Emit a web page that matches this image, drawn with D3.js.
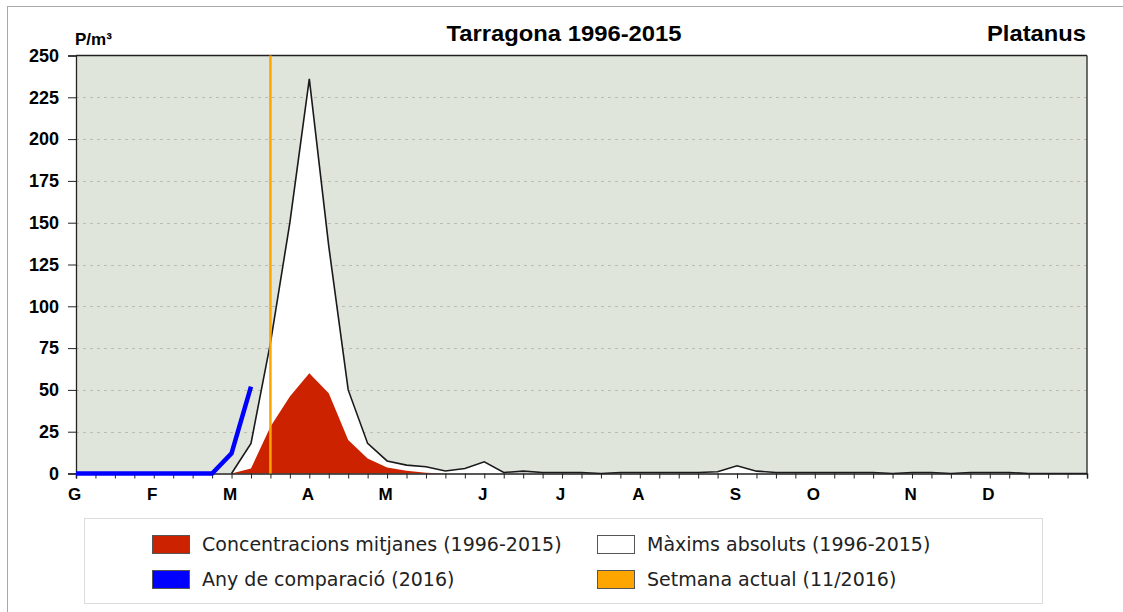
<!DOCTYPE html>
<html>
<head>
<meta charset="utf-8">
<script src="https://cdn.jsdelivr.net/npm/d3@7"></script>
<style>
  body { margin: 0; background: #fff; }
  svg { display: block; }
</style>
</head>
<body>
<script>
// weekly data, week 1..53
const weeks = d3.range(1, 54);

const maxValues = [
  0, 0, 0, 0, 0, 0, 0, 0, 0, 18,
  78, 150, 236, 136, 50, 18, 7.5, 5, 4, 1.5,
  3, 7, 0.6, 1.4, 0.6, 0.6, 0.6, 0, 0.6, 0.6,
  0.6, 0.6, 0.6, 1, 4.6, 1.4, 0.6, 0.6, 0.6, 0.6,
  0.6, 0.6, 0, 0.6, 0.6, 0, 0.6, 0.6, 0.6, 0,
  0, 0, 0
];

const meanValues = [
  0, 0, 0, 0, 0, 0, 0, 0, 0, 3,
  28, 46, 60, 48, 20, 9, 3.6, 1.6, 0.4, 0,
  0, 0, 0, 0, 0, 0, 0, 0, 0, 0,
  0, 0, 0, 0, 0, 0, 0, 0, 0, 0,
  0, 0, 0, 0, 0, 0, 0, 0, 0, 0,
  0, 0, 0
];

// 2016, only the first 10 weeks
const compareValues = [0, 0, 0, 0, 0, 0, 0, 0, 12, 52];

const currentWeek = 11;

const monthLabels = ["G", "F", "M", "A", "M", "J", "J", "A", "S", "O", "N", "D"];
const monthWeeks = [1, 5, 9, 13, 17, 22, 26, 30, 35, 39, 44, 48];

const yTicks = [0, 25, 50, 75, 100, 125, 150, 175, 200, 225, 250];

const legendLabels = [
  "Concentracions mitjanes (1996-2015)",
  "Màxims absoluts (1996-2015)",
  "Any de comparació (2016)",
  "Setmana actual (11/2016)"
];
const legendColors = ["#cc2200", "#ffffff", "#0000ff", "#ffa500"];

const width = 1123;
const height = 612;
const plot = { left: 76, right: 1087, top: 55.5, bottom: 473.5 };
const boldFont = "'Liberation Sans', Arial, sans-serif";

const svg = d3.select("body").append("svg")
    .attr("width", width)
    .attr("height", height);

// outer frame
svg.append("rect")
    .attr("x", 7.5).attr("y", 6.5)
    .attr("width", 1140).attr("height", 640)
    .attr("fill", "none")
    .attr("stroke", "#a8a8a8");

const x = d3.scaleLinear()
    .domain([1, 53])
    .range([plot.left, plot.right]);

const y = d3.scaleLinear()
    .domain([0, 250])
    .range([plot.bottom, plot.top]);

// plot background
svg.append("rect")
    .attr("x", plot.left).attr("y", plot.top)
    .attr("width", plot.right - plot.left)
    .attr("height", plot.bottom - plot.top)
    .attr("fill", "#e0e5dc");

// dashed grid
svg.append("g")
  .selectAll("line")
  .data(yTicks.filter(d => d > 0 && d < 250))
  .enter().append("line")
    .attr("x1", plot.left).attr("x2", plot.right)
    .attr("y1", d => Math.round(y(d)) + 0.5)
    .attr("y2", d => Math.round(y(d)) + 0.5)
    .attr("stroke", "#b9bcb7")
    .attr("stroke-dasharray", "3,4");

const area = d3.area()
    .x((d, i) => x(weeks[i]))
    .y0(y(0))
    .y1(d => y(d));

// absolute maxima
svg.append("path")
    .attr("d", area(maxValues))
    .attr("fill", "#ffffff");

// mean concentrations
svg.append("path")
    .attr("d", area(meanValues))
    .attr("fill", "#cc2200");

// maxima outline starts where the season starts
const maxLine = d3.line()
    .defined((d, i) => i >= 8)
    .x((d, i) => x(weeks[i]))
    .y(d => y(d));

svg.append("path")
    .attr("d", maxLine(maxValues))
    .attr("fill", "none")
    .attr("stroke", "#1a1a1a")
    .attr("stroke-width", 1.6);

// borders
svg.append("line")
    .attr("x1", plot.left).attr("x2", plot.right)
    .attr("y1", plot.top).attr("y2", plot.top)
    .attr("stroke", "#222").attr("stroke-width", 1.3);
svg.append("line")
    .attr("x1", plot.right).attr("x2", plot.right)
    .attr("y1", plot.top).attr("y2", plot.bottom)
    .attr("stroke", "#222").attr("stroke-width", 1.3);

// x axis
const xAxis = svg.append("g")
    .attr("transform", `translate(0,${plot.bottom})`)
    .call(d3.axisBottom(x).tickValues(weeks).tickSize(5).tickFormat(""));
xAxis.select(".domain").attr("stroke", "#222").attr("stroke-width", 1.5);
xAxis.selectAll(".tick line").attr("stroke", "#222");

svg.append("g")
  .selectAll("text")
  .data(monthLabels)
  .enter().append("text")
    .attr("x", (d, i) => x(monthWeeks[i]) - 1.5)
    .attr("y", 500)
    .attr("text-anchor", "middle")
    .style("font-family", boldFont)
    .style("font-weight", "bold")
    .style("font-size", "17px")
    .text(d => d);

// y axis
const yAxis = svg.append("g")
    .attr("transform", `translate(${plot.left},0)`)
    .call(d3.axisLeft(y).tickValues(yTicks).tickSize(8).tickPadding(9));
yAxis.select(".domain").attr("stroke", "#222").attr("stroke-width", 1.3);
yAxis.selectAll(".tick line").attr("stroke", "#222");
yAxis.selectAll(".tick text")
    .style("font-family", boldFont)
    .style("font-weight", "bold")
    .style("font-size", "18px")
    .attr("fill", "#000");

// comparison year
svg.append("path")
    .attr("d", d3.line().x((d, i) => x(weeks[i])).y(d => y(d))(compareValues))
    .attr("fill", "none")
    .attr("stroke", "#0000ff")
    .attr("stroke-width", 4.5);

// current week
svg.append("line")
    .attr("x1", x(currentWeek)).attr("x2", x(currentWeek))
    .attr("y1", plot.top).attr("y2", plot.bottom)
    .attr("stroke", "#ffa500")
    .attr("stroke-width", 2.5);

// titles
svg.append("text")
    .attr("x", 75).attr("y", 45)
    .style("font-family", boldFont)
    .style("font-weight", "bold")
    .style("font-size", "17px")
    .text("P/m³");

svg.append("text")
    .attr("x", 564).attr("y", 41)
    .attr("text-anchor", "middle")
    .style("font-family", boldFont)
    .style("font-weight", "bold")
    .style("font-size", "22px")
    .attr("textLength", 235)
    .attr("lengthAdjust", "spacingAndGlyphs")
    .text("Tarragona 1996-2015");

svg.append("text")
    .attr("x", 1086).attr("y", 41)
    .attr("text-anchor", "end")
    .style("font-family", boldFont)
    .style("font-weight", "bold")
    .style("font-size", "22px")
    .attr("textLength", 99)
    .attr("lengthAdjust", "spacingAndGlyphs")
    .text("Platanus");

// legend
svg.append("rect")
    .attr("x", 84.5).attr("y", 518.5)
    .attr("width", 958).attr("height", 85)
    .attr("fill", "#fff")
    .attr("stroke", "#dcdcdc");

const legend = svg.append("g")
  .selectAll("g")
  .data(legendLabels)
  .enter().append("g")
    .attr("transform", (d, i) => `translate(${i % 2 ? 597 : 152},${i < 2 ? 535 : 570})`);

legend.append("rect")
    .attr("x", 0.5).attr("y", 0.5)
    .attr("width", 37).attr("height", 18)
    .attr("fill", (d, i) => legendColors[i])
    .attr("stroke", "#555");

legend.append("text")
    .attr("x", 50).attr("y", 16)
    .style("font-family", "'DejaVu Sans', Verdana, sans-serif")
    .style("font-size", "19px")
    .attr("fill", "#222")
    .text(d => d);
</script>
</body>
</html>
